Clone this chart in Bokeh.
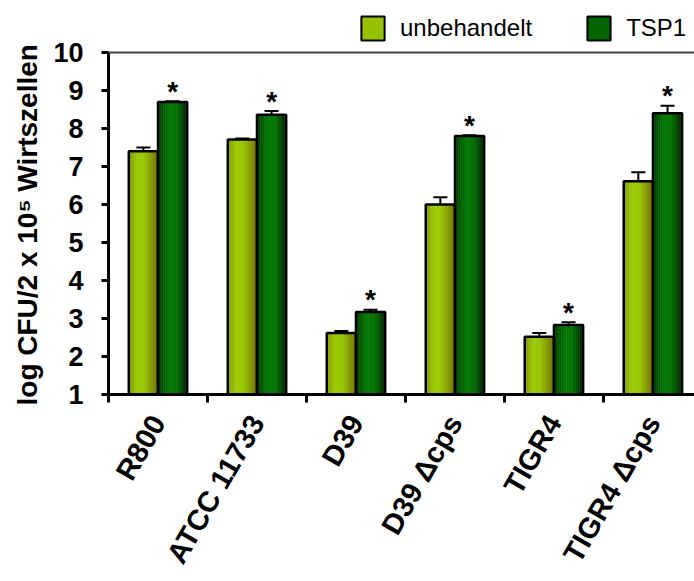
import math
from bokeh.plotting import figure
from bokeh.models import (Range1d, FixedTicker, ColumnDataSource, Whisker, TeeHead,
                          Legend, LegendItem, Span, Title)
from bokeh.core.properties import value
from bokeh.embed import file_html
from bokeh.resources import INLINE

# ---- data ----
strains = ["R800", "ATCC 11733", "D39", "D39 Δcps", "TIGR4", "TIGR4 Δcps"]
untreated = [7.40, 7.71, 2.62, 6.00, 2.52, 6.61]
untreated_err = [0.10, 0.03, 0.05, 0.19, 0.10, 0.24]
tsp1 = [8.70, 8.36, 3.17, 7.80, 2.83, 8.40]
tsp1_err = [0.02, 0.10, 0.06, 0.02, 0.07, 0.20]
significant = [True, True, True, True, True, True]
series_labels = ["unbehandelt", "TSP1"]
y_ticks = [1, 2, 3, 4, 5, 6, 7, 8, 9, 10]
y_label = "log CFU/2 x 10⁵ Wirtszellen"

FONT = "Liberation Sans"

# ---- layout (pixels) ----
FRAME_BOTTOM_PX = 394      # x axis position
Y_TOP_PX = 52              # position of y = 10
Y_MIN, Y_MAX = 1, 10
y_end = Y_MIN + (Y_MAX - Y_MIN) * FRAME_BOTTOM_PX / (FRAME_BOTTOM_PX - Y_TOP_PX)

# ---- styling ----
BAR_W = 0.295
OFFSETS = [-BAR_W / 2, BAR_W / 2]
N_STRIPS = 16
grad_stops = [
    [(0.0, (0x84, 0x94, 0x00)), (0.3, (0x9c, 0xcc, 0x00)), (0.55, (0x98, 0xc4, 0x00)), (1.0, (0x72, 0x72, 0x00))],
    [(0.0, (0x00, 0x3c, 0x00)), (0.4, (0x00, 0x7a, 0x00)), (0.65, (0x00, 0x70, 0x00)), (1.0, (0x00, 0x24, 0x00))],
]
legend_fill = ["#96c000", "#006400"]


def grad_color(stops, t):
    for (t0, c0), (t1, c1) in zip(stops[:-1], stops[1:]):
        if t0 <= t <= t1:
            f = (t - t0) / (t1 - t0)
            c = [round(a + (b - a) * f) for a, b in zip(c0, c1)]
            return "#%02x%02x%02x" % tuple(c)
    return "#%02x%02x%02x" % stops[-1][1]


p = figure(width=694, height=581, x_range=Range1d(0, 5.92), y_range=Range1d(Y_MIN, y_end),
           output_backend="svg", toolbar_location=None,
           min_border_left=108, min_border_top=0, min_border_right=0,
           min_border_bottom=581 - FRAME_BOTTOM_PX)
p.grid.visible = False
p.outline_line_color = None
p.background_fill_color = "white"
p.border_fill_color = "white"

series = [(untreated, untreated_err), (tsp1, tsp1_err)]

for s, (vals, errs) in enumerate(series):
    xs, tops, cols = [], [], []
    for i, v in enumerate(vals):
        left = i + 0.5 + OFFSETS[s] - BAR_W / 2
        for k in range(N_STRIPS):
            t = (k + 0.5) / N_STRIPS
            xs.append(left + (k + 0.5) * BAR_W / N_STRIPS)
            tops.append(v)
            cols.append(grad_color(grad_stops[s], t))
    src = ColumnDataSource(dict(x=xs, top=tops, color=cols))
    p.vbar(x="x", top="top", bottom=Y_MIN, width=BAR_W / N_STRIPS, source=src,
           fill_color="color", line_color="color", line_width=0.6)

for s, (vals, errs) in enumerate(series):
    centers = [i + 0.5 + OFFSETS[s] for i in range(len(vals))]
    src = ColumnDataSource(dict(x=centers, top=vals,
                                lower=vals, upper=[v + e for v, e in zip(vals, errs)]))
    wh = Whisker(source=src, base="x", lower="lower", upper="upper", dimension="height",
                 line_width=2, line_color="black",
                 upper_head=TeeHead(size=14, line_width=2, line_color="black"), lower_head=None)
    p.add_layout(wh)
    p.vbar(x="x", top="top", bottom=Y_MIN, width=BAR_W, source=src,
           fill_color=None, line_color="black", line_width=2.5)

# significance stars
star_x = [i + 0.5 + OFFSETS[1] for i in range(len(tsp1)) if significant[i]]
star_y = [tsp1[i] + tsp1_err[i] for i in range(len(tsp1)) if significant[i]]
p.text(x=star_x, y=star_y, text=["*"] * len(star_x), text_font=value(FONT),
       text_font_style="bold", text_font_size="28px", text_align="center",
       text_baseline="alphabetic", y_offset=-10, text_color="black")

# top frame line at y = 10
p.add_layout(Span(location=Y_MAX, dimension="width", line_color="#444444", line_width=2))

# legend (proxy glyphs placed outside the visible x range)
dummies = []
for s in range(2):
    r = p.vbar(x=[-10], top=[Y_MAX], bottom=Y_MIN, width=0.1, fill_color=legend_fill[s],
               line_color="black", line_width=2)
    dummies.append(r)
legend = Legend(items=[LegendItem(label=series_labels[s], renderers=[dummies[s]]) for s in range(2)],
                orientation="horizontal", location=(250, FRAME_BOTTOM_PX - 43),
                glyph_width=29, glyph_height=30, label_text_font=FONT, label_text_font_size="24px",
                label_text_color="black",
                label_standoff=13, spacing=52, padding=0, margin=0,
                border_line_color=None, background_fill_alpha=0)
p.add_layout(legend, "center")

# y axis
p.yaxis.ticker = FixedTicker(ticks=y_ticks)
p.yaxis.bounds = (Y_MIN, Y_MAX)
p.yaxis.major_label_text_font = FONT
p.yaxis.major_label_text_font_style = "bold"
p.yaxis.major_label_text_font_size = "27px"
p.yaxis.major_label_text_color = "black"
p.yaxis.major_label_standoff = 18
p.yaxis.axis_line_width = 3
p.yaxis.axis_line_color = "black"
p.yaxis.major_tick_line_width = 3
p.yaxis.major_tick_line_color = "black"
p.yaxis.major_tick_out = 7
p.yaxis.major_tick_in = 0
p.yaxis.minor_tick_line_color = None

title = Title(text=y_label, align="left", offset=-11, standoff=15,
              text_font=FONT, text_font_style="bold", text_font_size="28px", text_color="black")
p.add_layout(title, "left")

# x axis
centers = [i + 0.5 for i in range(len(strains))]
p.xaxis.ticker = FixedTicker(ticks=centers, minor_ticks=list(range(len(strains) + 1)))
p.xaxis.major_label_overrides = {c: name for c, name in zip(centers, strains)}
p.xaxis.major_label_orientation = math.pi / 3
p.xaxis.major_label_text_font = FONT
p.xaxis.major_label_text_font_style = "bold"
p.xaxis.major_label_text_font_size = "29px"
p.xaxis.major_label_text_color = "black"
p.xaxis.major_label_standoff = 15
p.xaxis.major_tick_line_color = None
p.xaxis.minor_tick_line_color = "black"
p.xaxis.minor_tick_line_width = 3
p.xaxis.minor_tick_out = 8
p.xaxis.minor_tick_in = 0
p.xaxis.axis_line_width = 3
p.xaxis.axis_line_color = "black"

open("out.html", "w").write(file_html(p, INLINE))
